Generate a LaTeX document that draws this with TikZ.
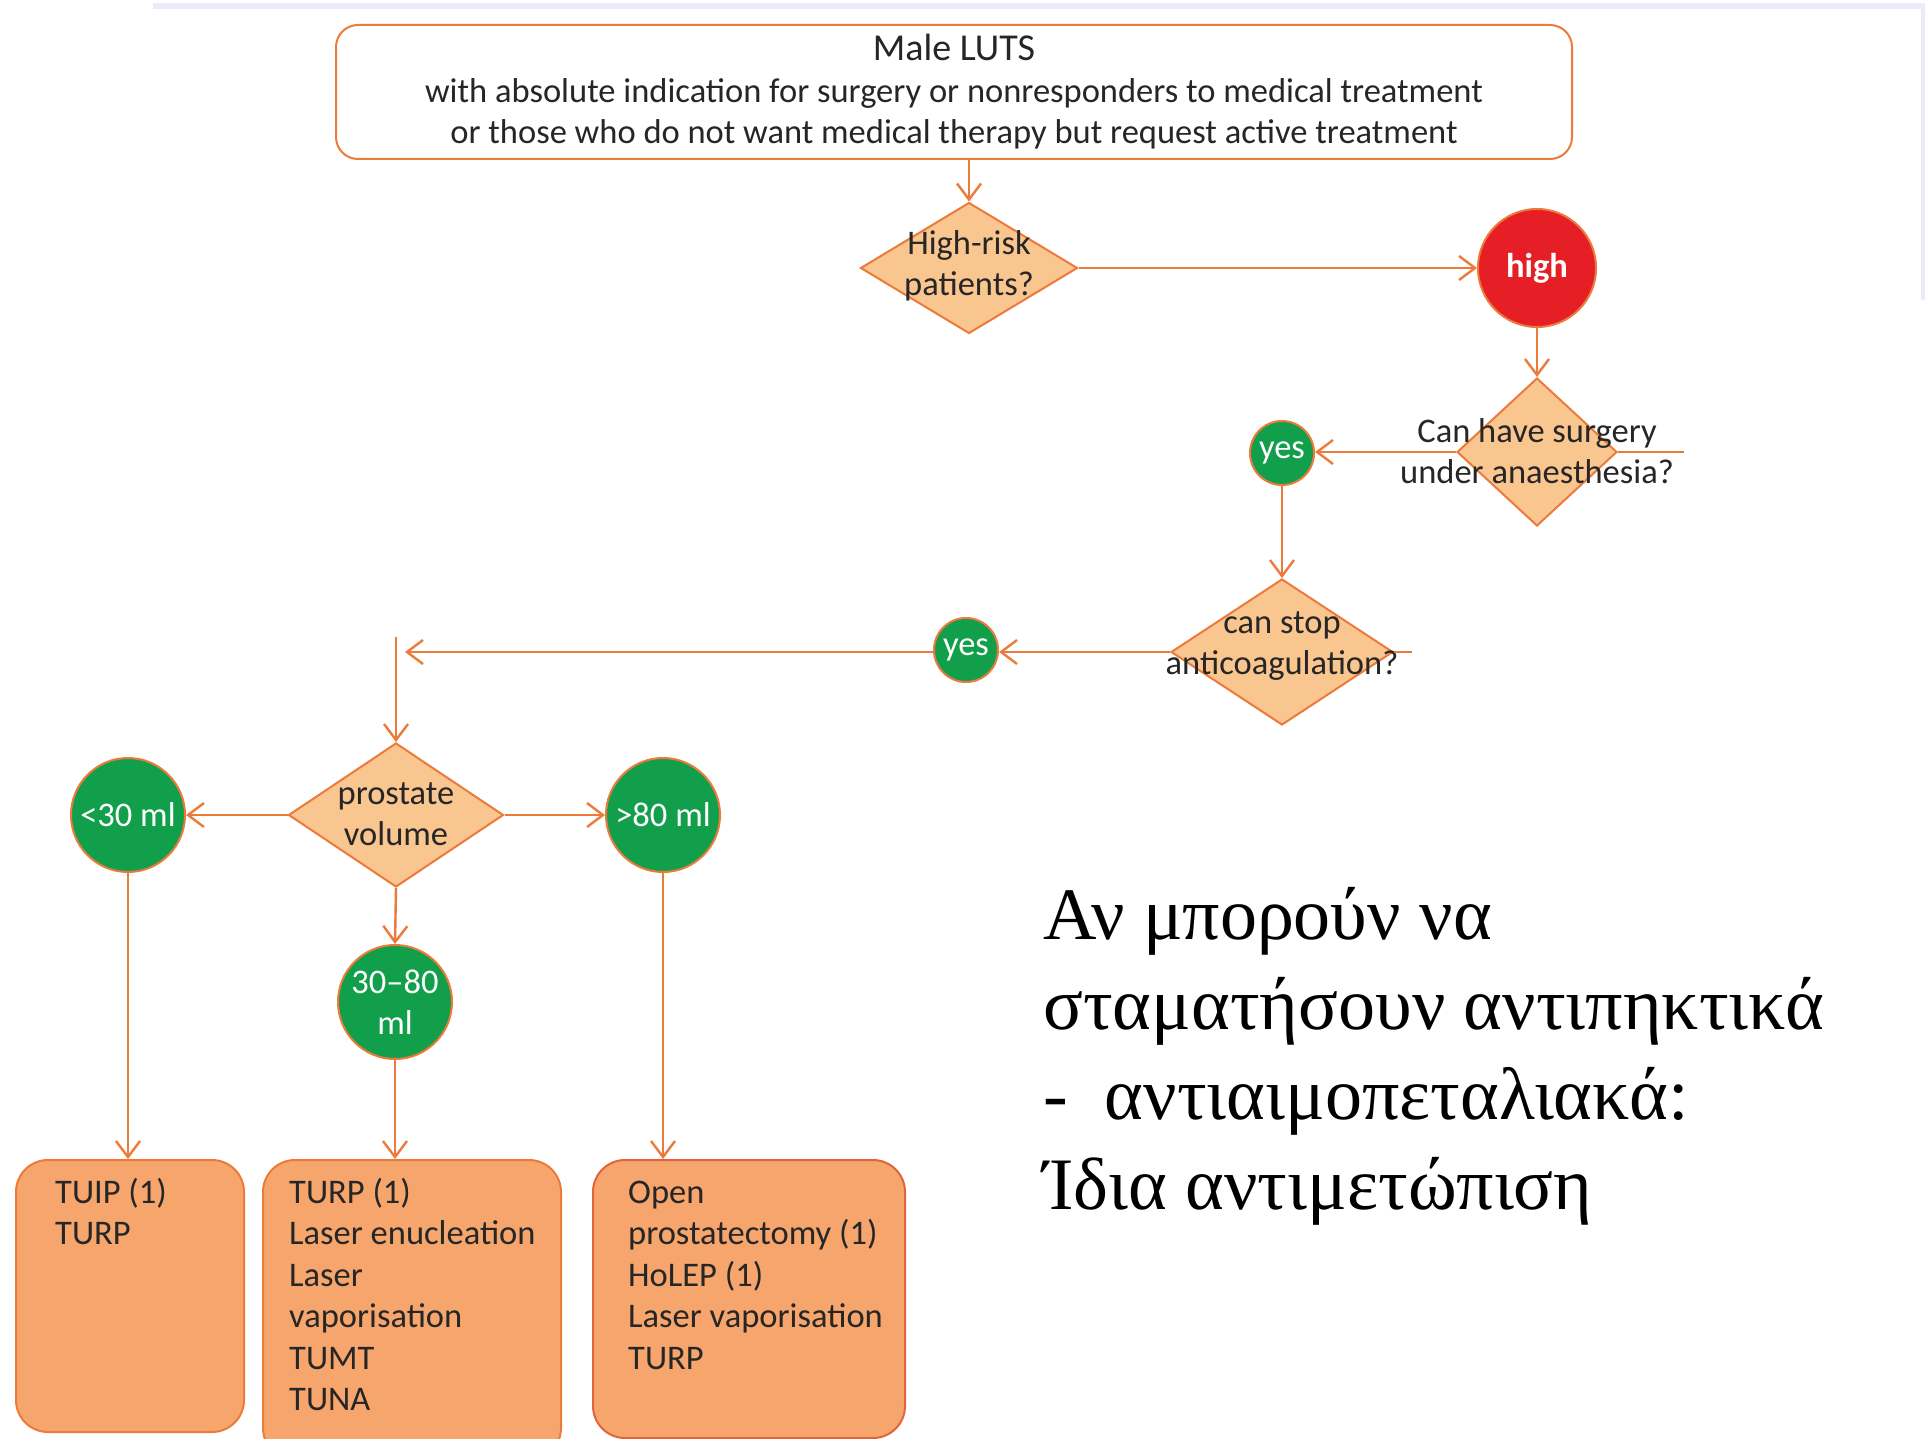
\documentclass[tikz,border=0pt]{standalone}
\usepackage{fontspec}
\setmainfont{Carlito}
\newfontfamily\greekfont{Liberation Serif}
\usetikzlibrary{shapes.geometric,arrows.meta}

\definecolor{lineor}{HTML}{EC7A3A}
\definecolor{diafill}{HTML}{FAC68F}
\definecolor{okgreen}{HTML}{119F4B}
\definecolor{riskred}{HTML}{E61F27}
\definecolor{boxfill}{HTML}{F6A66D}
\definecolor{boxedge}{HTML}{E2643C}
\definecolor{ink}{HTML}{262626}
\definecolor{lavender}{HTML}{EAEAF9}

\begin{document}
\begin{tikzpicture}[x=1pt,y=-1pt,
  every node/.style={font=\fontsize{34.5}{41.5}\selectfont, text=ink},
  conn/.style={draw=lineor, line width=2.4pt,
    -{Straight Barb[length=16pt,width=24pt,line width=2.4pt]}},
  stub/.style={draw=lineor, line width=2.4pt},
  dia/.style={diamond, draw=lineor, fill=diafill, line width=2pt, inner sep=0pt},
  dtext/.style={align=center, inner sep=0pt},
  ball/.style={circle, draw=lineor, fill=okgreen, line width=2pt, inner sep=0pt,
    minimum size=114pt, text=white, align=center},
  smallball/.style={ball, minimum size=64pt},
  optbox/.style={draw=lineor, fill=boxfill, line width=2pt, rounded corners=32pt,
    minimum height=272pt, anchor=north west, inner sep=0pt},
  opttext/.style={align=left, anchor=north west, inner sep=0pt}
]
% page
\useasboundingbox (0,0) rectangle (1925,1439);
\fill[white] (0,0) rectangle (1925,1439);
\fill[lavender] (153,3) rectangle (1925,9);
\fill[lavender] (1921,9) rectangle (1925,300);

% header
\node[draw=lineor, line width=2pt, rounded corners=22pt, fill=white,
      minimum width=1236pt, minimum height=134pt, align=center, inner sep=0pt]
  (top) at (954,92)
  {{\fontsize{38}{41.5}\selectfont Male LUTS}\\with absolute indication for surgery or nonresponders to medical treatment\\or those who do not want medical therapy but request active treatment};

% risk branch
\node[dia, minimum width=217pt, minimum height=131pt] (d1) at (969,268) {};
\node[dtext] (d1t) at (969,266) {High-risk\\patients?};
\node[ball, fill=riskred, minimum size=118pt, font=\fontsize{34.5}{41.5}\selectfont\bfseries] (high) at (1537,268) {high};

\node[dia, minimum width=160pt, minimum height=148pt] (d2) at (1537,452) {};
\node[dtext] (d2t) at (1537,451) {Can have surgery\\under anaesthesia?};
\node[smallball] (yes1) at (1282,453) {yes};
\coordinate (d2end) at (1684,452);

\node[dia, minimum width=222pt, minimum height=146pt] (d3) at (1282,652) {};
\node[dtext] (d3t) at (1282,646) {can stop\\anticoagulation?};
\node[smallball] (yes2) at (966,650) {yes};
\coordinate (d3end) at (1412,652);

\coordinate (jh) at (405,652);
\coordinate (jv) at (396,637);

% prostate volume branch
\node[dia, minimum width=215pt, minimum height=144pt] (pv) at (396,815) {};
\node[dtext] (pvt) at (396,814) {prostate\\volume};
\node[ball] (small) at (128,815) {<30 ml};
\node[ball] (large) at (663,815) {>80 ml};
\node[ball] (mid) at (395,1002) {30--80\\ml};

% treatment boxes
\node[optbox, minimum width=228pt] (b1) at (15,1159) {};
\node[optbox, minimum width=298pt, minimum height=300pt] (b2) at (262,1159) {};
\node[optbox, draw=boxedge, minimum width=312pt, minimum height=278pt] (b3) at (592,1159) {};
\node[opttext] (b1t) at (55,1174) {\strut TUIP (1)\\TURP};
\node[opttext] (b2t) at (289,1174) {\strut TURP (1)\\Laser enucleation\\Laser\\vaporisation\\TUMT\\TUNA};
\node[opttext] (b3t) at (628,1174) {\strut Open\\prostatectomy (1)\\HoLEP (1)\\Laser vaporisation\\TURP};

% connectors
\draw[conn] (top.south -| d1.north) -- (d1.north);
\draw[conn] (d1.east) -- (high.west);
\draw[conn] (high.south) -- (d2.north);
\draw[conn] (d2.west) -- (d2.west -| yes1.east);
\draw[stub] (d2.east) -- (d2end);
\draw[conn] (yes1.south) -- (d3.north);
\draw[conn] (d3.west) -- (d3.west -| yes2.east);
\draw[stub] (d3.east) -- (d3end);
\draw[conn] (yes2.west |- jh) -- (jh);
\draw[conn] (jv) -- (pv.north);
\draw[conn] (pv.west) -- (small.east);
\draw[conn] (pv.east) -- (large.west);
\draw[conn] (pv.south) -- (mid.north);
\draw[conn] (small.south) -- (small.south |- b1.north);
\draw[conn] (mid.south) -- (mid.south |- b2.north);
\draw[conn] (large.south) -- (large.south |- b3.north);

% note (anchored on the baseline of its last line)
\node[align=left, anchor=base west, inner sep=0pt,
      font=\greekfont\fontsize{74}{90}\selectfont, text=black] (note) at (1043,1209)
  {Αν μπορούν να\\σταματήσουν αντιπηκτικά\\-\hspace{0.5em}αντιαιμοπεταλιακά:\\Ίδια αντιμετώπιση};
\end{tikzpicture}
\end{document}
